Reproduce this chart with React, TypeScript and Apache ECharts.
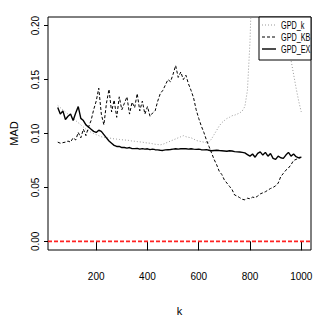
import React, { useEffect, useRef } from "react";
import * as echarts from "echarts";

const kValues = [
  50, 60, 70, 80, 90, 100, 110, 120, 130, 140, 150, 160, 170, 180, 190, 200,
  210, 220, 230, 240, 250, 260, 270, 280, 290, 300, 310, 320, 330, 340, 350, 360,
  370, 380, 390, 400, 410, 420, 430, 440, 450, 460, 470, 480, 490, 500, 510, 520,
  530, 540, 550, 560, 570, 580, 590, 600, 610, 620, 630, 640, 650, 660, 670, 680,
  690, 700, 710, 720, 730, 740, 750, 760, 770, 780, 790, 800, 810, 820, 830, 840,
  850, 860, 870, 880, 890, 900, 910, 920, 930, 940, 950, 960, 970, 980, 990, 1000,
];

const gpdK = [
  0.126, 0.124, 0.122, 0.12, 0.118, 0.116, 0.114, 0.112, 0.11, 0.108, 0.106, 0.104, 0.103, 0.101, 0.1, 0.099,
  0.098, 0.097, 0.0965, 0.096, 0.0958, 0.0955, 0.095, 0.0948, 0.0945, 0.0942, 0.094, 0.0938, 0.0935, 0.093, 0.0928, 0.0925,
  0.0922, 0.092, 0.0915, 0.0912, 0.091, 0.0905, 0.09, 0.0898, 0.0895, 0.09, 0.091, 0.092, 0.093, 0.094, 0.095, 0.096,
  0.097, 0.098, 0.097, 0.0965, 0.096, 0.095, 0.0935, 0.093, 0.0925, 0.092, 0.0915, 0.092, 0.095, 0.099, 0.103, 0.107,
  0.11, 0.112, 0.114, 0.115, 0.1165, 0.117, 0.118, 0.119, 0.121, 0.125, 0.14, 0.185, 0.26, 0.29, 0.31, 0.32,
  0.31, 0.3, 0.29, 0.28, 0.26, 0.245, 0.233, 0.221, 0.208, 0.195, 0.181, 0.168, 0.155, 0.142, 0.13, 0.12,
];

const gpdKB = [
  0.092, 0.091, 0.0915, 0.092, 0.093, 0.092, 0.096, 0.094, 0.101, 0.096, 0.104, 0.098, 0.106, 0.112, 0.122, 0.13,
  0.142, 0.118, 0.108, 0.128, 0.141, 0.12, 0.131, 0.115, 0.134, 0.122, 0.128, 0.134, 0.118, 0.129, 0.124, 0.137,
  0.121, 0.13, 0.118, 0.125, 0.116, 0.119, 0.121, 0.13, 0.137, 0.14, 0.145, 0.15, 0.148, 0.155, 0.163, 0.152,
  0.157, 0.15, 0.154, 0.146, 0.14, 0.133, 0.122, 0.114, 0.107, 0.101, 0.094, 0.088, 0.082, 0.076, 0.071, 0.065,
  0.062, 0.057, 0.054, 0.051, 0.048, 0.043, 0.042, 0.0405, 0.039, 0.0385, 0.04, 0.0395, 0.041, 0.0405, 0.042, 0.044,
  0.045, 0.046, 0.0475, 0.049, 0.05, 0.0515, 0.054, 0.06, 0.063, 0.066, 0.068, 0.071, 0.075, 0.076, 0.077, 0.078,
];

const gpdEX = [
  0.124, 0.118, 0.121, 0.113, 0.116, 0.118, 0.112, 0.119, 0.125, 0.114, 0.112, 0.108, 0.106, 0.104, 0.102, 0.101,
  0.103, 0.102, 0.099, 0.096, 0.093, 0.091, 0.089, 0.088, 0.088, 0.087, 0.087, 0.0865, 0.087, 0.086, 0.086, 0.0862,
  0.0855, 0.086, 0.0855, 0.0858, 0.085, 0.0855, 0.085, 0.0848, 0.0845, 0.0843, 0.0848, 0.085, 0.0852, 0.0855, 0.0858, 0.0855,
  0.0858, 0.086, 0.0858, 0.0855, 0.0858, 0.0855, 0.0853, 0.0855, 0.085, 0.0848, 0.085, 0.0845, 0.084, 0.0843, 0.0845, 0.0842,
  0.084, 0.0838, 0.0835, 0.084, 0.0838, 0.0832, 0.083, 0.0828, 0.0825, 0.082, 0.0805, 0.079, 0.081, 0.078, 0.0815, 0.083,
  0.08, 0.0825, 0.079, 0.0815, 0.077, 0.076, 0.079, 0.0775, 0.077, 0.08, 0.0825, 0.079, 0.081, 0.0785, 0.0775, 0.078,
];

const refLineValue = 0;
const xTicks = [200, 400, 600, 800, 1000];
const yTicks = [0, 0.05, 0.1, 0.15, 0.2];
const legendNames = ["GPD_k", "GPD_KB", "GPD_EX"];

const FONT = "'Liberation Sans', Arial, sans-serif";

export default function App() {
  const ref = useRef<HTMLDivElement>(null);
  useEffect(() => {
    if (!ref.current) return;
    const chart = echarts.init(ref.current, undefined, { renderer: "svg" });
    const pair = (ys: number[]) => kValues.map((k, i) => [k, ys[i]]);
    const lx = 262;
    const rows = [25, 37, 49];
    const legendLines = [
      { stroke: "#999999", lineDash: [1, 2] },
      { stroke: "#000000", lineDash: [3, 2] },
      { stroke: "#000000", lineDash: null as any },
    ];
    const xMin = 12;
    const xMax = 1038;
    chart.setOption({
      animation: false,
      backgroundColor: "#ffffff",
      textStyle: { fontFamily: FONT, color: "#000000" },
      grid: {
        left: 42,
        top: 17,
        right: 9,
        bottom: 77,
        show: true,
        borderColor: "#000",
        borderWidth: 1,
        backgroundColor: "transparent",
      },
      xAxis: {
        type: "value",
        min: xMin,
        max: xMax,
        name: "k",
        nameLocation: "middle",
        nameGap: 55,
        nameTextStyle: { fontSize: 11, color: "#000000", fontFamily: FONT },
        axisLine: { show: false },
        splitLine: { show: false },
        axisTick: {
          show: true,
          inside: false,
          length: 9,
          customValues: xTicks,
          lineStyle: { color: "#000" },
        },
        axisLabel: {
          customValues: xTicks,
          margin: 21,
          fontSize: 10,
          color: "#000",
          fontFamily: FONT,
          formatter: (v: number) => String(Math.round(v)),
        },
      },
      yAxis: {
        type: "value",
        min: -0.008,
        max: 0.208,
        name: "MAD",
        nameLocation: "middle",
        nameGap: 29,
        nameRotate: 90,
        nameTextStyle: { fontSize: 11, color: "#000000", fontFamily: FONT },
        axisLine: { show: false },
        splitLine: { show: false },
        axisTick: {
          show: true,
          inside: false,
          length: 4,
          customValues: yTicks,
          lineStyle: { color: "#000" },
        },
        axisLabel: {
          customValues: yTicks,
          rotate: 90,
          margin: 8,
          fontSize: 10,
          color: "#000",
          fontFamily: FONT,
          formatter: (v: number) => v.toFixed(2),
        },
      },
      series: [
        {
          name: legendNames[0],
          type: "line",
          data: pair(gpdK),
          showSymbol: false,
          clip: true,
          lineStyle: { color: "#999999", width: 1, type: [1, 2] },
          z: 2,
        },
        {
          name: legendNames[1],
          type: "line",
          data: pair(gpdKB),
          showSymbol: false,
          clip: true,
          lineStyle: { color: "#000000", width: 1, type: [3, 2] },
          z: 3,
        },
        {
          name: legendNames[2],
          type: "line",
          data: pair(gpdEX),
          showSymbol: false,
          clip: true,
          lineStyle: { color: "#000000", width: 1.4 },
          z: 4,
        },
        {
          name: "h0",
          type: "line",
          data: [
            [xMin, refLineValue],
            [xMax, refLineValue],
          ],
          showSymbol: false,
          silent: true,
          clip: true,
          color: "#ff0000",
          itemStyle: { color: "#ff0000" },
          lineStyle: { color: "#ff2222", width: 1.8, type: [4, 2] },
          z: 5,
        },
      ],
      graphic: [
        {
          type: "rect",
          z: 100,
          shape: { x: 259, y: 17, width: 52, height: 43 },
          style: { fill: "#ffffff", stroke: "#000000", lineWidth: 1 },
        },
        ...rows.map((y, i) => ({
          type: "line",
          z: 101,
          shape: { x1: lx, y1: y, x2: lx + 14, y2: y },
          style: {
            stroke: legendLines[i].stroke,
            lineWidth: i === 2 ? 1.4 : 1,
            lineDash: legendLines[i].lineDash,
          },
        })),
        ...rows.map((y, i) => ({
          type: "text",
          z: 101,
          x: 281,
          y,
          scaleX: 0.66,
          style: {
            text: legendNames[i],
            fill: "#000",
            font: `11px ${FONT}`,
            verticalAlign: "middle",
          },
        })),
      ],
    });
    return () => chart.dispose();
  }, []);
  return (
    <div
      ref={ref}
      style={{ position: "fixed", left: 0, top: 0, width: 320, height: 327 }}
    />
  );
}
